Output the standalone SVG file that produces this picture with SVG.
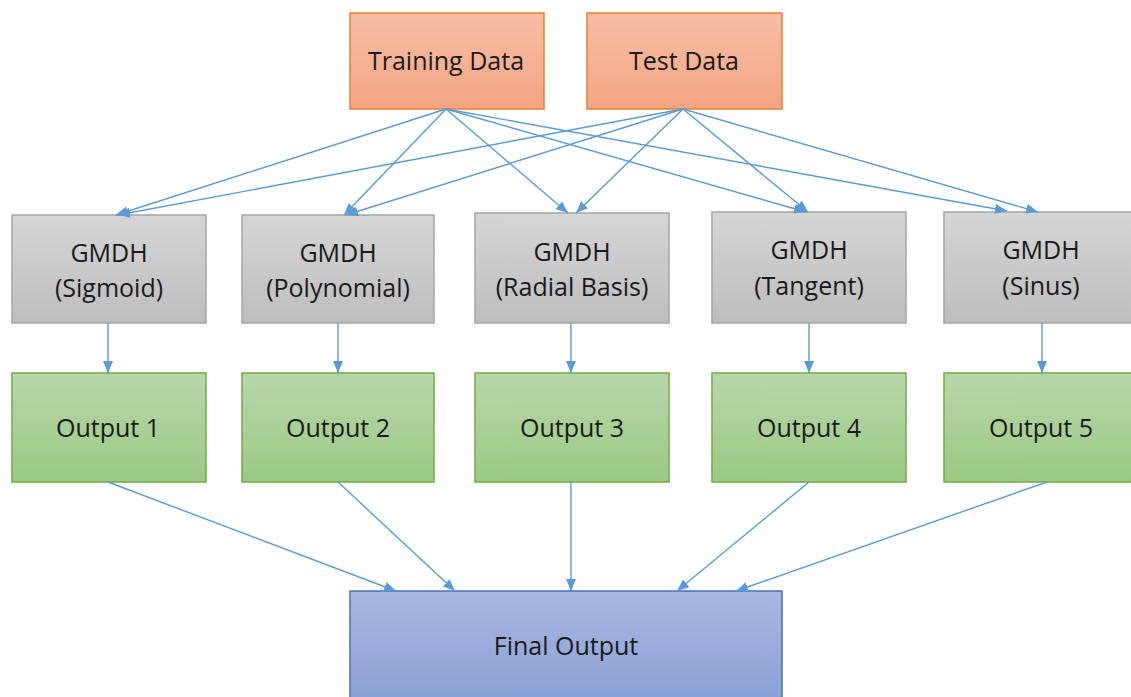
<svg xmlns="http://www.w3.org/2000/svg" width="1131" height="697" viewBox="0 0 1131 697">
<defs>
<linearGradient id="gO" x1="0" y1="0" x2="0" y2="1"><stop offset="0" stop-color="#f6bea6"/><stop offset="1" stop-color="#f4a582"/></linearGradient>
<linearGradient id="gG" x1="0" y1="0" x2="0" y2="1"><stop offset="0" stop-color="#d6d6d6"/><stop offset="1" stop-color="#bdbdbd"/></linearGradient>
<linearGradient id="gN" x1="0" y1="0" x2="0" y2="1"><stop offset="0" stop-color="#b7d7a9"/><stop offset="1" stop-color="#9cc985"/></linearGradient>
<linearGradient id="gB" x1="0" y1="0" x2="0" y2="1"><stop offset="0" stop-color="#a9b7e1"/><stop offset="1" stop-color="#8aa0d6"/></linearGradient>
<marker id="ah" viewBox="0 0 12 10" refX="12" refY="5" markerWidth="12" markerHeight="10" markerUnits="userSpaceOnUse" orient="auto"><path d="M0,0 L12,5 L0,10 z" fill="#5b9bd5"/></marker>
</defs>
<style>
.o{fill:url(#gO);stroke:#ed7d31;stroke-width:1.5}
.g{fill:url(#gG);stroke:#a5a5a5;stroke-width:1.5}
.n{fill:url(#gN);stroke:#70ad47;stroke-width:1.5}
.b{fill:url(#gB);stroke:#4472c4;stroke-width:1.5}
text{font-family:"Open Sans","Liberation Sans",sans-serif;font-size:25px;fill:#1a1a1a;text-anchor:middle}
.c line{stroke:#5b9bd5;stroke-width:1.4;marker-end:url(#ah)}
</style>
<g id="training"><rect class="o" x="350" y="13" width="194" height="96"/><text x="446" y="70">Training Data</text></g>
<g id="test"><rect class="o" x="587" y="13" width="195" height="96"/><text x="684" y="70">Test Data</text></g>
<g id="gmdh1"><rect class="g" x="12" y="215" width="194" height="108"/><text x="109" y="262">GMDH</text><text x="109" y="297">(Sigmoid)</text></g>
<g id="gmdh2"><rect class="g" x="242" y="215" width="192" height="108"/><text x="338" y="262">GMDH</text><text x="338" y="297">(Polynomial)</text></g>
<g id="gmdh3"><rect class="g" x="475" y="213" width="194" height="110"/><text x="572" y="261">GMDH</text><text x="572" y="296">(Radial Basis)</text></g>
<g id="gmdh4"><rect class="g" x="712" y="212" width="194" height="111"/><text x="809" y="259">GMDH</text><text x="809" y="295">(Tangent)</text></g>
<g id="gmdh5"><rect class="g" x="944" y="212" width="194" height="111"/><text x="1041" y="259">GMDH</text><text x="1041" y="295">(Sinus)</text></g>
<g id="out1"><rect class="n" x="12" y="373" width="194" height="109"/><text x="108" y="437">Output 1</text></g>
<g id="out2"><rect class="n" x="242" y="373" width="192" height="109"/><text x="338" y="437">Output 2</text></g>
<g id="out3"><rect class="n" x="475" y="373" width="194" height="109"/><text x="572" y="437">Output 3</text></g>
<g id="out4"><rect class="n" x="712" y="373" width="194" height="109"/><text x="809" y="437">Output 4</text></g>
<g id="out5"><rect class="n" x="944" y="373" width="194" height="109"/><text x="1041" y="437">Output 5</text></g>
<g id="final"><rect class="b" x="350" y="591" width="432" height="110"/><text x="566" y="655">Final Output</text></g>
<g id="connectors" class="c">
<line x1="446" y1="109" x2="116" y2="215"/>
<line x1="446" y1="109" x2="344" y2="215"/>
<line x1="446" y1="109" x2="568" y2="213"/>
<line x1="446" y1="109" x2="806" y2="212"/>
<line x1="446" y1="109" x2="1007" y2="211"/>
<line x1="683" y1="109" x2="118" y2="215"/>
<line x1="683" y1="109" x2="346" y2="215"/>
<line x1="683" y1="109" x2="576" y2="213"/>
<line x1="683" y1="109" x2="808" y2="212"/>
<line x1="683" y1="109" x2="1038" y2="212"/>
<line x1="108" y1="323" x2="108" y2="373"/>
<line x1="338" y1="323" x2="338" y2="373"/>
<line x1="571" y1="323" x2="571" y2="373"/>
<line x1="809" y1="323" x2="809" y2="373"/>
<line x1="1042" y1="323" x2="1042" y2="373"/>
<line x1="108" y1="482" x2="396" y2="591"/>
<line x1="338" y1="482" x2="455" y2="591"/>
<line x1="571" y1="482" x2="571" y2="591"/>
<line x1="809" y1="482" x2="677" y2="591"/>
<line x1="1047" y1="482" x2="736" y2="591"/>
</g>
</svg>
